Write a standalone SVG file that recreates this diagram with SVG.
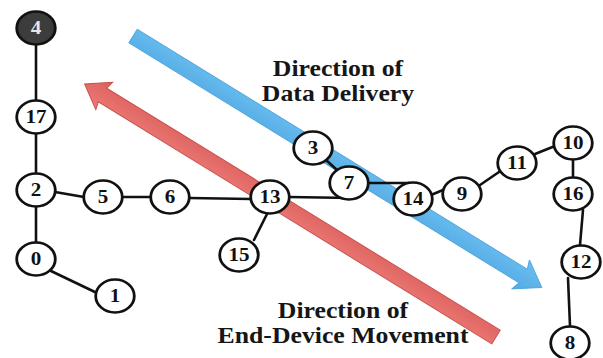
<svg xmlns="http://www.w3.org/2000/svg" width="603" height="358" viewBox="0 0 603 358">
  <style>
    .edge { stroke: #111; stroke-width: 2.6; fill: none; stroke-linecap: round; }
    .node circle { fill: #fff; stroke: #111; stroke-width: 2.4; }
    .node text { font-family: "Liberation Serif", "Times New Roman", serif; font-weight: bold; font-size: 18px; text-anchor: middle; fill: #111; }
    .node.sink circle { fill: #3c3c3c; }
    .node.sink text { fill: #e6e6e6; }
    .label text { font-family: "Liberation Serif", "Times New Roman", serif; font-weight: bold; font-size: 23px; text-anchor: middle; fill: #161616; }
  </style>
  <defs>
    <linearGradient id="blueFill" x1="0" y1="0" x2="0" y2="1">
      <stop offset="0" stop-color="#6cbff0"/>
      <stop offset="1" stop-color="#52aae4"/>
    </linearGradient>
    <linearGradient id="redFill" x1="0" y1="0" x2="0" y2="1">
      <stop offset="0" stop-color="#ec7a76"/>
      <stop offset="1" stop-color="#dc605c"/>
    </linearGradient>
  </defs>

  <rect width="603" height="358" fill="#fff"/>

  <!-- direction arrows -->
  <g id="arrows">
    <g id="arrow-data" transform="translate(133,36) rotate(31.6)">
      <path d="M0,-8 L458,-8 L455,-17 L480,0 L455,17 L458,8 L0,8 Z" fill="url(#blueFill)" stroke="#4a9fd8" stroke-width="0.8"/>
    </g>
    <g id="arrow-movement" transform="translate(496,337) rotate(211.6)">
      <path d="M0,-8 L462,-8 L460,-16 L483,0 L460,16 L462,8 L0,8 Z" fill="url(#redFill)" stroke="#c9504c" stroke-width="1"/>
    </g>
  </g>

  <!-- connectors -->
  <g id="connectors">
    <line class="edge" x1="36" y1="44" x2="36" y2="100"/>
    <line class="edge" x1="36" y1="134" x2="36" y2="173"/>
    <line class="edge" x1="36" y1="207" x2="36" y2="242"/>
    <line class="edge" x1="55" y1="192" x2="84" y2="197"/>
    <line class="edge" x1="122" y1="197" x2="151" y2="197"/>
    <line class="edge" x1="189" y1="198" x2="251" y2="199"/>
    <line class="edge" x1="267" y1="214" x2="254" y2="240"/>
    <line class="edge" x1="51" y1="271" x2="97" y2="293"/>
    <line class="edge" x1="289" y1="197" x2="352" y2="198"/>
    <line class="edge" x1="326" y1="160" x2="337" y2="170"/>
    <line class="edge" x1="367" y1="183" x2="409" y2="183"/>
    <line class="edge" x1="431" y1="195" x2="443" y2="190"/>
    <line class="edge" x1="480" y1="185" x2="499" y2="172"/>
    <line class="edge" x1="535" y1="154" x2="555" y2="146"/>
    <line class="edge" x1="573" y1="160" x2="573" y2="177"/>
    <line class="edge" x1="583" y1="210" x2="580" y2="245"/>
    <line class="edge" x1="568" y1="278" x2="570" y2="326"/>
  </g>

  <!-- nodes -->
  <g id="n4" class="node sink" transform="translate(36,28) scale(1.17,1)"><circle r="16.5"/><text y="6">4</text></g>
  <g id="n17" class="node" transform="translate(36,117) scale(1.17,1)"><circle r="16.5"/><text y="6">17</text></g>
  <g id="n2" class="node" transform="translate(36,190) scale(1.17,1)"><circle r="16.5"/><text y="6">2</text></g>
  <g id="n0" class="node" transform="translate(36,259) scale(1.17,1)"><circle r="16.5"/><text y="6">0</text></g>
  <g id="n1" class="node" transform="translate(115,296) scale(1.17,1)"><circle r="16.5"/><text y="6">1</text></g>
  <g id="n5" class="node" transform="translate(103,197) scale(1.17,1)"><circle r="16.5"/><text y="6">5</text></g>
  <g id="n6" class="node" transform="translate(170,197) scale(1.17,1)"><circle r="16.5"/><text y="6">6</text></g>
  <g id="n13" class="node" transform="translate(270,197) scale(1.17,1)"><circle r="16.5"/><text y="6">13</text></g>
  <g id="n15" class="node" transform="translate(239,255) scale(1.17,1)"><circle r="16.5"/><text y="6">15</text></g>
  <g id="n3" class="node" transform="translate(313,148) scale(1.17,1)"><circle r="16.5"/><text y="6">3</text></g>
  <g id="n7" class="node" transform="translate(349,183) scale(1.17,1)"><circle r="16.5"/><text y="6">7</text></g>
  <g id="n14" class="node" transform="translate(413,199) scale(1.17,1)"><circle r="16.5"/><text y="6">14</text></g>
  <g id="n9" class="node" transform="translate(462,194) scale(1.17,1)"><circle r="16.5"/><text y="6">9</text></g>
  <g id="n11" class="node" transform="translate(517,163) scale(1.17,1)"><circle r="16.5"/><text y="6">11</text></g>
  <g id="n10" class="node" transform="translate(573,143) scale(1.17,1)"><circle r="16.5"/><text y="6">10</text></g>
  <g id="n16" class="node" transform="translate(573,194) scale(1.17,1)"><circle r="16.5"/><text y="6">16</text></g>
  <g id="n12" class="node" transform="translate(581,262) scale(1.17,1)"><circle r="16.5"/><text y="6">12</text></g>
  <g id="n8" class="node" transform="translate(570,343) scale(1.17,1)"><circle r="16.5"/><text y="6">8</text></g>

  <!-- arrow captions -->
  <g id="caption-data" class="label">
    <text transform="translate(338,76) scale(1.12,1)">Direction of</text>
    <text transform="translate(338,101) scale(1.12,1)">Data Delivery</text>
  </g>
  <g id="caption-movement" class="label">
    <text transform="translate(343,318) scale(1.12,1)">Direction of</text>
    <text transform="translate(343,343) scale(1.12,1)">End-Device Movement</text>
  </g>
</svg>
